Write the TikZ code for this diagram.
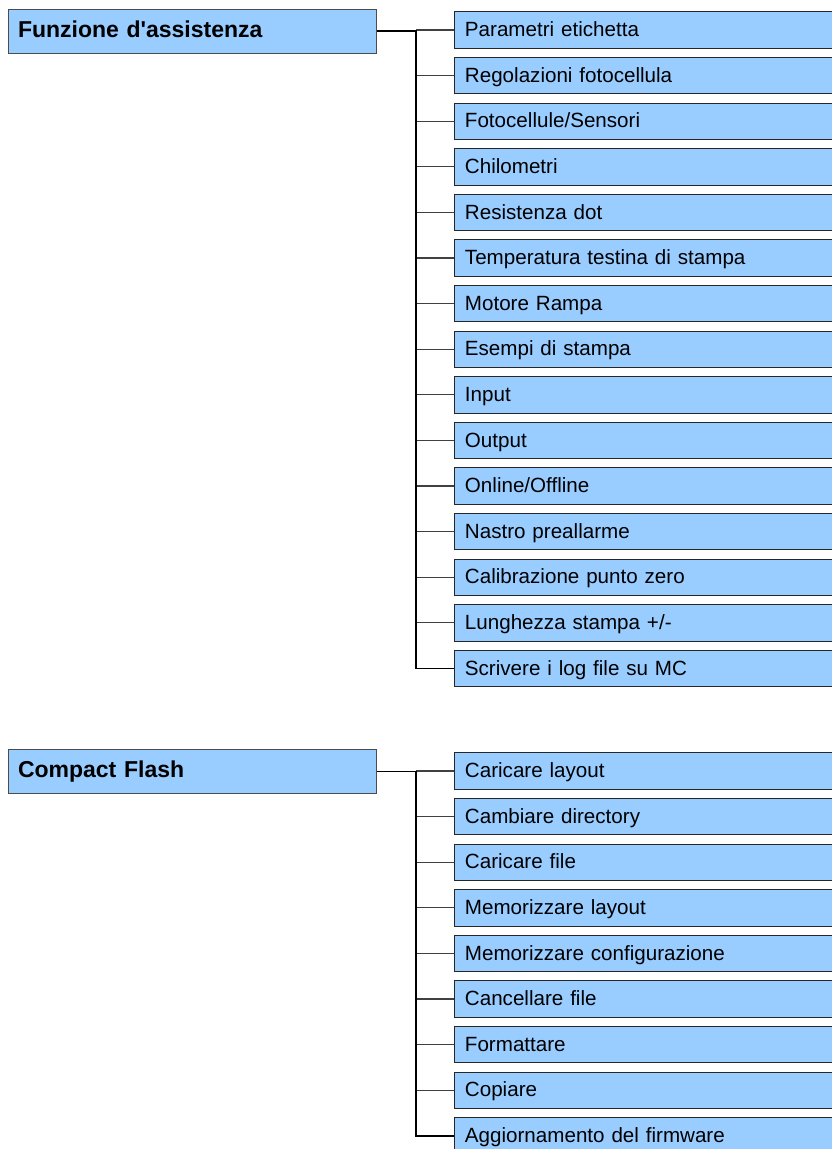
\documentclass[tikz,border=0pt]{standalone}
\usepackage{fontspec}
\setmainfont{Liberation Sans}
\newfontfamily\arial{Liberation Sans}
\definecolor{boxblue}{HTML}{99CCFF}
\begin{document}
\begin{tikzpicture}[x=1pt,y=-1pt,
  head/.style={draw=black!70, line width=1pt, fill=boxblue, anchor=west,
    minimum width=368.5pt, minimum height=44pt, text width=348.5pt,
    inner xsep=10pt, align=left, font=\arial\fontsize{23}{25}\selectfont\bfseries,
    text height=15.8pt, text depth=3.2pt},
  item/.style={draw=black!85, line width=0.9pt, fill=boxblue, anchor=west,
    minimum width=386.5pt, minimum height=36.5pt, text width=364.5pt,
    inner xsep=11pt, align=left, font=\arial\fontsize{20.6}{22}\selectfont,
    text height=15.5pt, text depth=2.1pt},
  trunk/.style={line width=1.6pt, black},
  twig/.style={line width=1.2pt, black!75}]
\useasboundingbox (0,0) rectangle (832,1149);
\clip (0,0) rectangle (832,1149);

% group 1
\node[head] (h1) at (7.5,31) {Funzione d'assistenza};
\foreach \t [count=\i] in {Parametri etichetta,Regolazioni fotocellula,Fotocellule/Sensori,Chilometri,Resistenza dot,Temperatura testina di stampa,Motore Rampa,Esempi di stampa,Input,Output,Online/Offline,Nastro preallarme,Calibrazione punto zero,Lunghezza stampa +/-,Scrivere i log file su MC}
  \node[item] (a\i) at (453.5,{30+(\i-1)*45.6}) {\t};
\coordinate (j1) at (416,31);
\foreach \i in {1,...,14}
  \draw[twig] (j1 |- a\i.west) -- (a\i.west);
\draw[trunk] (h1.east) -- (j1) |- (a15.west);

% group 2
\node[head] (h2) at (7.5,771.3) {Compact Flash};
\foreach \t [count=\i] in {Caricare layout,Cambiare directory,Caricare file,Memorizzare layout,Memorizzare configurazione,Cancellare file,Formattare,Copiare,Aggiornamento del firmware}
  \node[item] (b\i) at (453.5,{771+(\i-1)*45.6}) {\t};
\coordinate (j2) at (416,771.3);
\foreach \i in {1,...,8}
  \draw[twig] (j2 |- b\i.west) -- (b\i.west);
\draw[trunk] (h2.east) -- (j2) |- (b9.west);
\end{tikzpicture}
\end{document}
